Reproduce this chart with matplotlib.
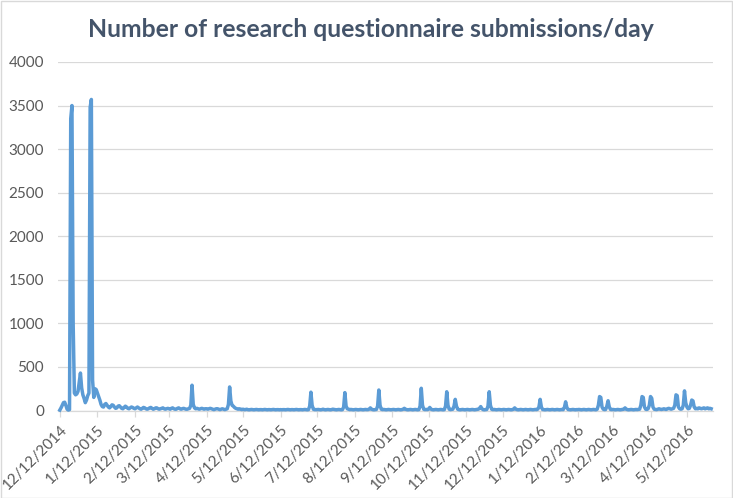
import matplotlib
matplotlib.use("Agg")
import matplotlib.pyplot as plt
import matplotlib.dates as mdates
import numpy as np
import pandas as pd
from matplotlib.patches import Rectangle

# ---- data: daily submissions starting 12/12/2014, one list per month block ----
start_date = "2014-12-12"
m01 = [5, 30, 60, 90, 95, 60, 15, 5, 10, 3350, 3500, 1000, 200, 180, 190, 220, 330, 430, 260, 180,
       140, 90, 120, 170, 200, 3480, 3570, 350, 150, 250, 240]
m02 = [200, 160, 120, 70, 45, 40, 70, 80, 60, 40, 30, 45, 65, 60, 40, 25, 30, 50, 55, 40,
       25, 20, 35, 50, 40, 25, 20, 30, 40, 35, 25]
m03 = [20, 30, 40, 30, 20, 15, 25, 35, 30, 20, 15, 20, 30, 35, 25, 15, 20, 30, 30, 20,
       15, 20, 25, 30, 20, 15, 20, 25]
m04 = [20, 15, 25, 30, 20, 15, 15, 25, 30, 20, 15, 20, 25, 20, 15, 15, 20, 25, 60, 290,
       70, 30, 20, 25, 20, 15, 20, 25, 20, 15, 20]
m05 = [20, 15, 20, 25, 20, 15, 10, 15, 20, 20, 15, 10, 15, 20, 15, 10, 15, 20, 70, 270,
       110, 60, 50, 35, 25, 20, 15, 20, 15, 10]
m06 = [15, 10, 10, 15, 10, 8, 10, 12, 10, 8, 10, 12, 10, 8, 10, 10, 8, 10, 12, 10,
       8, 10, 10, 8, 10, 12, 10, 8, 10, 10, 8]
m07 = [10, 8, 10, 10, 8, 10, 12, 10, 8, 10, 10, 8, 10, 12, 10, 8, 10, 10, 8, 10,
       12, 10, 8, 10, 50, 210, 60, 15, 10, 10]
m08 = [10, 12, 10, 8, 10, 15, 10, 8, 10, 12, 10, 8, 10, 15, 12, 10, 8, 10, 12, 10,
       8, 10, 40, 205, 50, 20, 15, 10, 12, 10, 8]
m09 = [10, 12, 10, 8, 10, 12, 10, 8, 10, 12, 10, 10, 15, 30, 15, 10, 8, 10, 12, 50,
       235, 60, 15, 10, 12, 10, 8, 10, 12, 10, 8]
m10 = [10, 12, 10, 8, 10, 12, 10, 8, 10, 15, 25, 15, 10, 8, 10, 12, 10, 8, 10, 12,
       10, 8, 10, 50, 255, 60, 15, 10, 12, 10]
m11 = [15, 35, 15, 10, 8, 10, 12, 10, 8, 10, 12, 10, 8, 10, 50, 215, 60, 15, 10, 12,
       15, 50, 128, 50, 15, 10, 8, 10, 12, 10, 8]
m12 = [10, 12, 10, 8, 10, 12, 10, 8, 10, 12, 15, 25, 45, 20, 10, 8, 10, 12, 50, 215,
       60, 15, 10, 12, 10, 8, 10, 12, 10, 8]
m13 = [10, 12, 10, 8, 10, 12, 10, 8, 10, 15, 30, 15, 10, 8, 10, 12, 10, 8, 10, 12,
       10, 8, 10, 12, 10, 8, 10, 12, 10, 15, 40]
m14 = [128, 40, 12, 10, 8, 10, 12, 10, 8, 10, 12, 10, 8, 10, 12, 10, 8, 10, 12, 10,
       35, 100, 35, 12, 10, 8, 10, 12, 10, 8, 10]
m15 = [10, 12, 10, 8, 10, 12, 10, 8, 10, 12, 10, 8, 10, 12, 10, 8, 15, 60, 160, 150,
       40, 15, 10, 12, 50, 112, 40, 12, 10]
m16 = [12, 10, 8, 10, 12, 10, 8, 10, 12, 15, 30, 15, 10, 8, 10, 12, 10, 8, 10, 12,
       10, 12, 15, 60, 160, 150, 40, 15, 12, 20, 60]
m17 = [160, 140, 40, 15, 12, 10, 15, 20, 15, 12, 15, 20, 15, 12, 20, 25, 20, 15, 20, 25,
       60, 180, 170, 40, 20, 15, 20, 60, 225, 90]
m18 = [40, 20, 25, 60, 120, 110, 40, 20, 25, 20, 30, 25, 20, 25, 30, 20, 25, 30, 20, 25, 20]

tick_labels = ["12/12/2014", "1/12/2015", "2/12/2015", "3/12/2015", "4/12/2015", "5/12/2015",
               "6/12/2015", "7/12/2015", "8/12/2015", "9/12/2015", "10/12/2015", "11/12/2015",
               "12/12/2015", "1/12/2016", "2/12/2016", "3/12/2016", "4/12/2016", "5/12/2016"]
y_ticks = [0, 500, 1000, 1500, 2000, 2500, 3000, 3500, 4000]
title = "Number of research questionnaire submissions/day"

values = np.array(m01 + m02 + m03 + m04 + m05 + m06 + m07 + m08 + m09 + m10 + m11 + m12
                  + m13 + m14 + m15 + m16 + m17 + m18, dtype=float)
dates = pd.date_range(start_date, periods=len(values), freq="D")
tick_dates = pd.to_datetime(tick_labels, format="%m/%d/%Y")

plt.rcParams["font.family"] = ["Lato", "DejaVu Sans"]

W, H = 733, 498
fig = plt.figure(figsize=(W / 100, H / 100), dpi=100)
fig.patch.set_facecolor("white")

ax_l, ax_r, ax_t, ax_b = 58, 713, 62, 410.5
ax = fig.add_axes([ax_l / W, 1 - ax_b / H, (ax_r - ax_l) / W, (ax_b - ax_t) / H])

ax.plot(dates, values, color="#5B9BD5", lw=2.5, solid_joinstyle="round", clip_on=False, zorder=3)

x0 = mdates.date2num(dates[0])
ax.set_xlim(x0 - 1.5, x0 + len(values) + 0.5)
ax.set_ylim(0, 4000)
ax.set_yticks(y_ticks)
ax.set_yticklabels([str(v) for v in y_ticks])
ax.set_xticks(mdates.date2num(tick_dates))
ax.set_xticklabels(tick_labels, rotation=45, ha="right", va="top", rotation_mode="anchor")

ax.grid(axis="y", color="#D9D9D9", lw=0.9)
ax.set_axisbelow(True)
for s in ["left", "right", "top"]:
    ax.spines[s].set_visible(False)
ax.spines["bottom"].set_color("#D9D9D9")
ax.spines["bottom"].set_linewidth(0.9)
ax.tick_params(axis="y", length=0, pad=10, labelsize=11, labelcolor="#595959")
ax.tick_params(axis="x", length=4, width=0.9, color="#D9D9D9", pad=5, labelsize=11,
               labelcolor="#595959")

fig.text(0.5055, 1 - 29 / H, title, ha="center", va="center", fontsize=17.8,
         fontweight="bold", color="#44546A")

fig.patches.append(Rectangle((0.5 / W, 0.5 / H), 1 - 1.5 / W, 1 - 1.5 / H,
                             transform=fig.transFigure, fill=False, edgecolor="#D9D9D9", lw=1))

fig.savefig("out.png", dpi=100)
